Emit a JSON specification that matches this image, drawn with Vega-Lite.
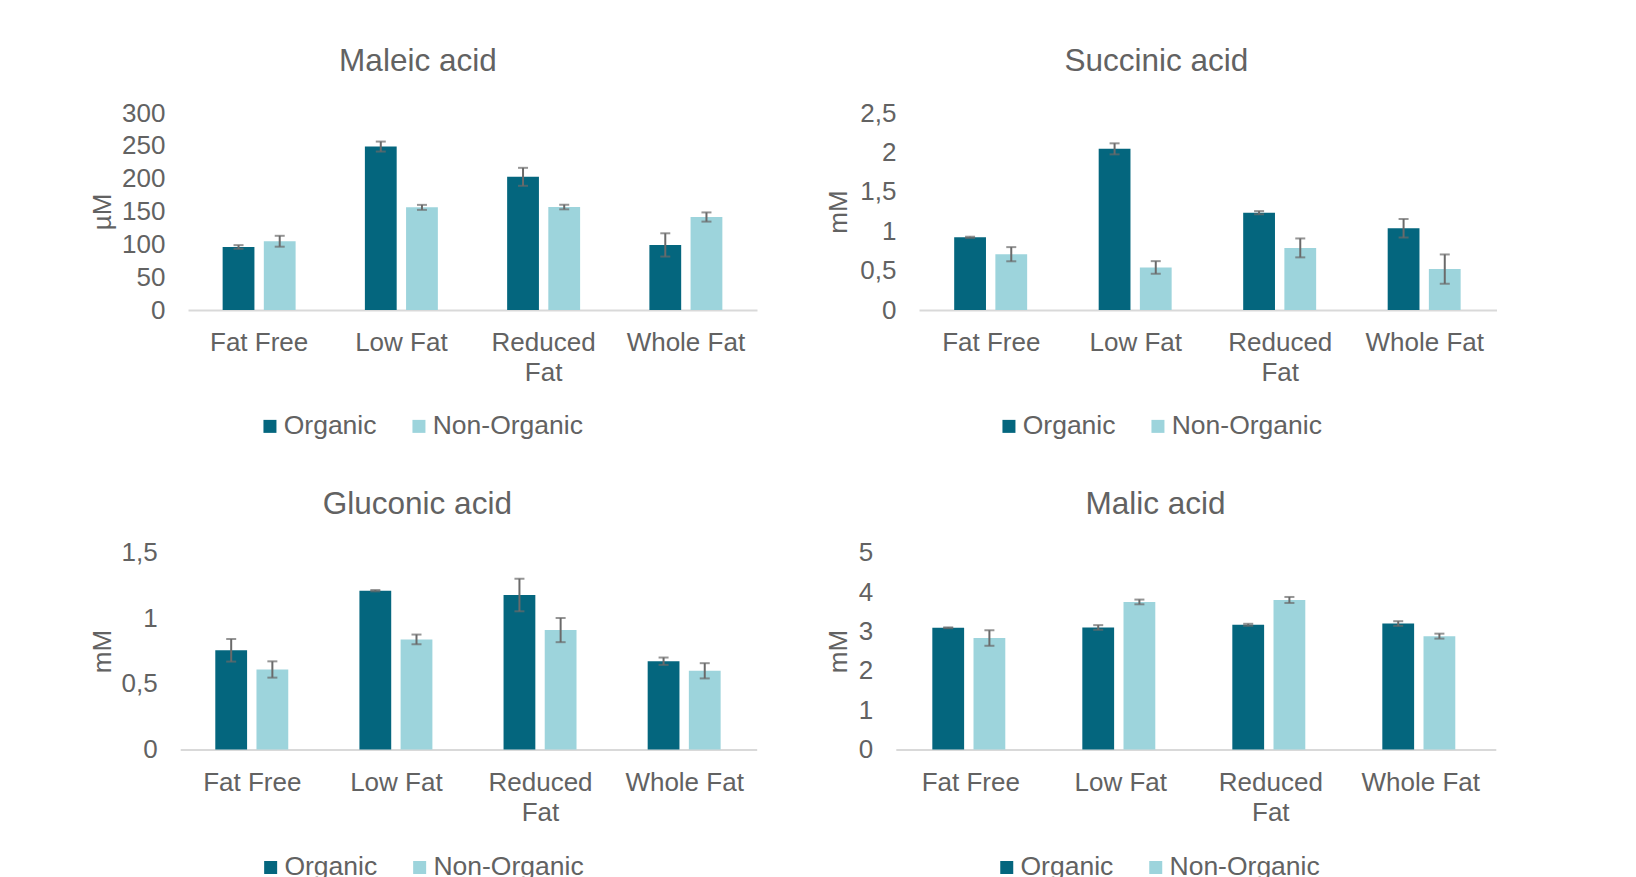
{
  "$schema": "https://vega.github.io/schema/vega-lite/v6.json",
  "padding": {"left": 89, "top": 45, "right": 0, "bottom": 0},
  "datasets": {
    "acids": [
      {"acid": "Maleic acid", "fat": "Fat Free", "type": "Organic", "mean": 96.0, "lo": 93.2, "hi": 98.8},
      {"acid": "Maleic acid", "fat": "Fat Free", "type": "Non-Organic", "mean": 104.7, "lo": 96.4, "hi": 113.0},
      {"acid": "Maleic acid", "fat": "Low Fat", "type": "Organic", "mean": 248.9, "lo": 241.3, "hi": 256.5},
      {"acid": "Maleic acid", "fat": "Low Fat", "type": "Non-Organic", "mean": 156.3, "lo": 152.5, "hi": 160.1},
      {"acid": "Maleic acid", "fat": "Reduced Fat", "type": "Organic", "mean": 202.8, "lo": 189.1, "hi": 216.5},
      {"acid": "Maleic acid", "fat": "Reduced Fat", "type": "Non-Organic", "mean": 156.8, "lo": 153.3, "hi": 160.3},
      {"acid": "Maleic acid", "fat": "Whole Fat", "type": "Organic", "mean": 99.1, "lo": 81.4, "hi": 116.8},
      {"acid": "Maleic acid", "fat": "Whole Fat", "type": "Non-Organic", "mean": 141.6, "lo": 134.6, "hi": 148.6},

      {"acid": "Succinic acid", "fat": "Fat Free", "type": "Organic", "mean": 0.923, "lo": 0.915, "hi": 0.93},
      {"acid": "Succinic acid", "fat": "Fat Free", "type": "Non-Organic", "mean": 0.708, "lo": 0.618, "hi": 0.798},
      {"acid": "Succinic acid", "fat": "Low Fat", "type": "Organic", "mean": 2.045, "lo": 1.975, "hi": 2.115},
      {"acid": "Succinic acid", "fat": "Low Fat", "type": "Non-Organic", "mean": 0.54, "lo": 0.46, "hi": 0.62},
      {"acid": "Succinic acid", "fat": "Reduced Fat", "type": "Organic", "mean": 1.235, "lo": 1.215, "hi": 1.255},
      {"acid": "Succinic acid", "fat": "Reduced Fat", "type": "Non-Organic", "mean": 0.788, "lo": 0.668, "hi": 0.908},
      {"acid": "Succinic acid", "fat": "Whole Fat", "type": "Organic", "mean": 1.037, "lo": 0.92, "hi": 1.155},
      {"acid": "Succinic acid", "fat": "Whole Fat", "type": "Non-Organic", "mean": 0.519, "lo": 0.333, "hi": 0.705},

      {"acid": "Gluconic acid", "fat": "Fat Free", "type": "Organic", "mean": 0.756, "lo": 0.67, "hi": 0.842},
      {"acid": "Gluconic acid", "fat": "Fat Free", "type": "Non-Organic", "mean": 0.61, "lo": 0.548, "hi": 0.672},
      {"acid": "Gluconic acid", "fat": "Low Fat", "type": "Organic", "mean": 1.21, "lo": 1.205, "hi": 1.215},
      {"acid": "Gluconic acid", "fat": "Low Fat", "type": "Non-Organic", "mean": 0.839, "lo": 0.802, "hi": 0.876},
      {"acid": "Gluconic acid", "fat": "Reduced Fat", "type": "Organic", "mean": 1.177, "lo": 1.053, "hi": 1.301},
      {"acid": "Gluconic acid", "fat": "Reduced Fat", "type": "Non-Organic", "mean": 0.91, "lo": 0.818, "hi": 1.002},
      {"acid": "Gluconic acid", "fat": "Whole Fat", "type": "Organic", "mean": 0.673, "lo": 0.645, "hi": 0.701},
      {"acid": "Gluconic acid", "fat": "Whole Fat", "type": "Non-Organic", "mean": 0.6, "lo": 0.542, "hi": 0.658},

      {"acid": "Malic acid", "fat": "Fat Free", "type": "Organic", "mean": 3.092, "lo": 3.082, "hi": 3.102},
      {"acid": "Malic acid", "fat": "Fat Free", "type": "Non-Organic", "mean": 2.832, "lo": 2.635, "hi": 3.029},
      {"acid": "Malic acid", "fat": "Low Fat", "type": "Organic", "mean": 3.1, "lo": 3.041, "hi": 3.159},
      {"acid": "Malic acid", "fat": "Low Fat", "type": "Non-Organic", "mean": 3.748, "lo": 3.688, "hi": 3.808},
      {"acid": "Malic acid", "fat": "Reduced Fat", "type": "Organic", "mean": 3.168, "lo": 3.143, "hi": 3.193},
      {"acid": "Malic acid", "fat": "Reduced Fat", "type": "Non-Organic", "mean": 3.798, "lo": 3.722, "hi": 3.874},
      {"acid": "Malic acid", "fat": "Whole Fat", "type": "Organic", "mean": 3.2, "lo": 3.141, "hi": 3.259},
      {"acid": "Malic acid", "fat": "Whole Fat", "type": "Non-Organic", "mean": 2.88, "lo": 2.817, "hi": 2.943}
    ]
  },
  "data": {"name": "acids"},
  "spacing": 48.6,
  "resolve": {"scale": {"y": "independent", "x": "independent"}, "legend": {"color": "independent"}},
  "vconcat": [
    {
      "spacing": 68,
      "resolve": {"scale": {"y": "independent", "x": "independent"}, "legend": {"color": "independent"}},
      "hconcat": [
        {
          "width": 569, "height": 197,
          "title": {"text": "Maleic acid", "dx": -54.6, "offset": 23},
          "transform": [{"filter": "datum.acid === 'Maleic acid'"}],
          "encoding": {
            "x": {"field": "fat", "type": "nominal", "sort": ["Fat Free", "Low Fat", "Reduced Fat", "Whole Fat"], "scale": {"paddingInner": 0.487, "paddingOuter": 0.2435}},
            "xOffset": {"field": "type", "type": "nominal", "sort": ["Organic", "Non-Organic"], "scale": {"paddingInner": 0.228, "paddingOuter": 0}}
          },
          "layer": [
            {
              "mark": {"type": "bar"},
              "encoding": {
                "y": {"field": "mean", "type": "quantitative", "title": "µM", "scale": {"domain": [0, 300], "nice": false}, "axis": {"values": [0, 50, 100, 150, 200, 250, 300], "labelOverlap": false, "minExtent": 67.5, "maxExtent": 67.5}},
                "color": {"field": "type", "type": "nominal", "sort": ["Organic", "Non-Organic"], "scale": {"domain": ["Organic", "Non-Organic"], "range": ["#04667e", "#9dd4dc"]}, "legend": {"legendX": 68.7, "legendY": 300}}
              }
            },
            {"mark": {"type": "rule", "color": "#6a6a6a", "strokeWidth": 2}, "encoding": {"y": {"field": "lo", "type": "quantitative", "title": "µM", "axis": {"values": [0, 50, 100, 150, 200, 250, 300], "labelOverlap": false, "minExtent": 67.5, "maxExtent": 67.5}}, "y2": {"field": "hi"}}},
            {"mark": {"type": "tick", "color": "#6a6a6a", "thickness": 2, "size": 10}, "encoding": {"y": {"field": "lo", "type": "quantitative", "title": "µM", "axis": {"values": [0, 50, 100, 150, 200, 250, 300], "labelOverlap": false, "minExtent": 67.5, "maxExtent": 67.5}}}},
            {"mark": {"type": "tick", "color": "#6a6a6a", "thickness": 2, "size": 10}, "encoding": {"y": {"field": "hi", "type": "quantitative", "title": "µM", "axis": {"values": [0, 50, 100, 150, 200, 250, 300], "labelOverlap": false, "minExtent": 67.5, "maxExtent": 67.5}}}}
          ]
        },
        {
          "width": 578, "height": 197,
          "title": {"text": "Succinic acid", "dx": -51.7, "offset": 23},
          "transform": [{"filter": "datum.acid === 'Succinic acid'"}],
          "encoding": {
            "x": {"field": "fat", "type": "nominal", "sort": ["Fat Free", "Low Fat", "Reduced Fat", "Whole Fat"], "scale": {"paddingInner": 0.487, "paddingOuter": 0.2435}},
            "xOffset": {"field": "type", "type": "nominal", "sort": ["Organic", "Non-Organic"], "scale": {"paddingInner": 0.228, "paddingOuter": 0}}
          },
          "layer": [
            {
              "mark": {"type": "bar"},
              "encoding": {
                "y": {"field": "mean", "type": "quantitative", "title": "mM", "scale": {"domain": [0, 2.5], "nice": false}, "axis": {"values": [0, 0.5, 1, 1.5, 2, 2.5], "labelOverlap": false, "minExtent": 62.8, "maxExtent": 62.8}},
                "color": {"field": "type", "type": "nominal", "sort": ["Organic", "Non-Organic"], "scale": {"domain": ["Organic", "Non-Organic"], "range": ["#04667e", "#9dd4dc"]}, "legend": {"legendX": 76.7, "legendY": 300}}
              }
            },
            {"mark": {"type": "rule", "color": "#6a6a6a", "strokeWidth": 2}, "encoding": {"y": {"field": "lo", "type": "quantitative", "title": "mM", "axis": {"values": [0, 0.5, 1, 1.5, 2, 2.5], "labelOverlap": false, "minExtent": 62.8, "maxExtent": 62.8}}, "y2": {"field": "hi"}}},
            {"mark": {"type": "tick", "color": "#6a6a6a", "thickness": 2, "size": 10}, "encoding": {"y": {"field": "lo", "type": "quantitative", "title": "mM", "axis": {"values": [0, 0.5, 1, 1.5, 2, 2.5], "labelOverlap": false, "minExtent": 62.8, "maxExtent": 62.8}}}},
            {"mark": {"type": "tick", "color": "#6a6a6a", "thickness": 2, "size": 10}, "encoding": {"y": {"field": "hi", "type": "quantitative", "title": "mM", "axis": {"values": [0, 0.5, 1, 1.5, 2, 2.5], "labelOverlap": false, "minExtent": 62.8, "maxExtent": 62.8}}}}
          ]
        }
      ]
    },
    {
      "spacing": 59.8,
      "resolve": {"scale": {"y": "independent", "x": "independent"}, "legend": {"color": "independent"}},
      "hconcat": [
        {
          "width": 568.7, "height": 197,
          "title": {"text": "Gluconic acid", "dx": -55, "offset": 19.5},
          "transform": [{"filter": "datum.acid === 'Gluconic acid'"}],
          "encoding": {
            "x": {"field": "fat", "type": "nominal", "sort": ["Fat Free", "Low Fat", "Reduced Fat", "Whole Fat"], "scale": {"range": [-7.8, 568.7], "paddingInner": 0.487, "paddingOuter": 0.2435}},
            "xOffset": {"field": "type", "type": "nominal", "sort": ["Organic", "Non-Organic"], "scale": {"paddingInner": 0.228, "paddingOuter": 0}}
          },
          "layer": [
            {
              "mark": {"type": "bar"},
              "encoding": {
                "y": {"field": "mean", "type": "quantitative", "title": "mM", "scale": {"domain": [0, 1.5], "nice": false}, "axis": {"values": [0, 0.5, 1, 1.5], "labelOverlap": false, "offset": 7.8, "minExtent": 59.5, "maxExtent": 59.5}},
                "color": {"field": "type", "type": "nominal", "sort": ["Organic", "Non-Organic"], "scale": {"domain": ["Organic", "Non-Organic"], "range": ["#04667e", "#9dd4dc"]}, "legend": {"legendX": 69.4, "legendY": 301.5}}
              }
            },
            {"mark": {"type": "rule", "color": "#6a6a6a", "strokeWidth": 2}, "encoding": {"y": {"field": "lo", "type": "quantitative", "title": "mM", "axis": {"values": [0, 0.5, 1, 1.5], "labelOverlap": false, "offset": 7.8, "minExtent": 59.5, "maxExtent": 59.5}}, "y2": {"field": "hi"}}},
            {"mark": {"type": "tick", "color": "#6a6a6a", "thickness": 2, "size": 10}, "encoding": {"y": {"field": "lo", "type": "quantitative", "title": "mM", "axis": {"values": [0, 0.5, 1, 1.5], "labelOverlap": false, "offset": 7.8, "minExtent": 59.5, "maxExtent": 59.5}}}},
            {"mark": {"type": "tick", "color": "#6a6a6a", "thickness": 2, "size": 10}, "encoding": {"y": {"field": "hi", "type": "quantitative", "title": "mM", "axis": {"values": [0, 0.5, 1, 1.5], "labelOverlap": false, "offset": 7.8, "minExtent": 59.5, "maxExtent": 59.5}}}}
          ]
        },
        {
          "width": 600, "height": 197,
          "title": {"text": "Malic acid", "dx": -40.2, "offset": 19.5},
          "transform": [{"filter": "datum.acid === 'Malic acid'"}],
          "encoding": {
            "x": {"field": "fat", "type": "nominal", "sort": ["Fat Free", "Low Fat", "Reduced Fat", "Whole Fat"], "scale": {"paddingInner": 0.487, "paddingOuter": 0.2435}},
            "xOffset": {"field": "type", "type": "nominal", "sort": ["Organic", "Non-Organic"], "scale": {"paddingInner": 0.228, "paddingOuter": 0}}
          },
          "layer": [
            {
              "mark": {"type": "bar"},
              "encoding": {
                "y": {"field": "mean", "type": "quantitative", "title": "mM", "scale": {"domain": [0, 5], "nice": false}, "axis": {"values": [0, 1, 2, 3, 4, 5], "labelOverlap": false, "minExtent": 39.5, "maxExtent": 39.5}},
                "color": {"field": "type", "type": "nominal", "sort": ["Organic", "Non-Organic"], "scale": {"domain": ["Organic", "Non-Organic"], "range": ["#04667e", "#9dd4dc"]}, "legend": {"legendX": 97.7, "legendY": 301.5}}
              }
            },
            {"mark": {"type": "rule", "color": "#6a6a6a", "strokeWidth": 2}, "encoding": {"y": {"field": "lo", "type": "quantitative", "title": "mM", "axis": {"values": [0, 1, 2, 3, 4, 5], "labelOverlap": false, "minExtent": 39.5, "maxExtent": 39.5}}, "y2": {"field": "hi"}}},
            {"mark": {"type": "tick", "color": "#6a6a6a", "thickness": 2, "size": 10}, "encoding": {"y": {"field": "lo", "type": "quantitative", "title": "mM", "axis": {"values": [0, 1, 2, 3, 4, 5], "labelOverlap": false, "minExtent": 39.5, "maxExtent": 39.5}}}},
            {"mark": {"type": "tick", "color": "#6a6a6a", "thickness": 2, "size": 10}, "encoding": {"y": {"field": "hi", "type": "quantitative", "title": "mM", "axis": {"values": [0, 1, 2, 3, 4, 5], "labelOverlap": false, "minExtent": 39.5, "maxExtent": 39.5}}}}
          ]
        }
      ]
    }
  ],
  "config": {
    "view": {"stroke": null},
    "font": "Liberation Sans",
    "axis": {
      "labelFont": "Liberation Sans", "labelFontSize": 26, "labelColor": "#626262",
      "titleFont": "Liberation Sans", "titleFontSize": 26, "titleFontWeight": "normal", "titleColor": "#626262",
      "ticks": false, "tickSize": 0, "grid": false, "labelOverlap": false
    },
    "axisY": {"domain": false, "labelPadding": 23, "titlePadding": 5, "labelExpr": "replace(format(datum.value, '~g'), '.', ',')"},
    "axisX": {"domainColor": "#d9d9d9", "domainWidth": 2, "labelPadding": 19.5, "labelAngle": 0, "title": null, "labelLineHeight": 30, "labelExpr": "datum.label == 'Reduced Fat' ? ['Reduced', 'Fat'] : datum.label"},
    "title": {"font": "Liberation Sans", "fontSize": 31.5, "fontWeight": "normal", "color": "#626262", "anchor": "middle", "frame": "group"},
    "legend": {
      "orient": "none", "direction": "horizontal", "title": null,
      "symbolType": "square", "symbolSize": 169, "symbolStrokeWidth": 0,
      "labelFont": "Liberation Sans", "labelFontSize": 26.5, "labelColor": "#626262",
      "labelOffset": 0.5, "columnPadding": 29, "padding": 0
    }
  }
}
